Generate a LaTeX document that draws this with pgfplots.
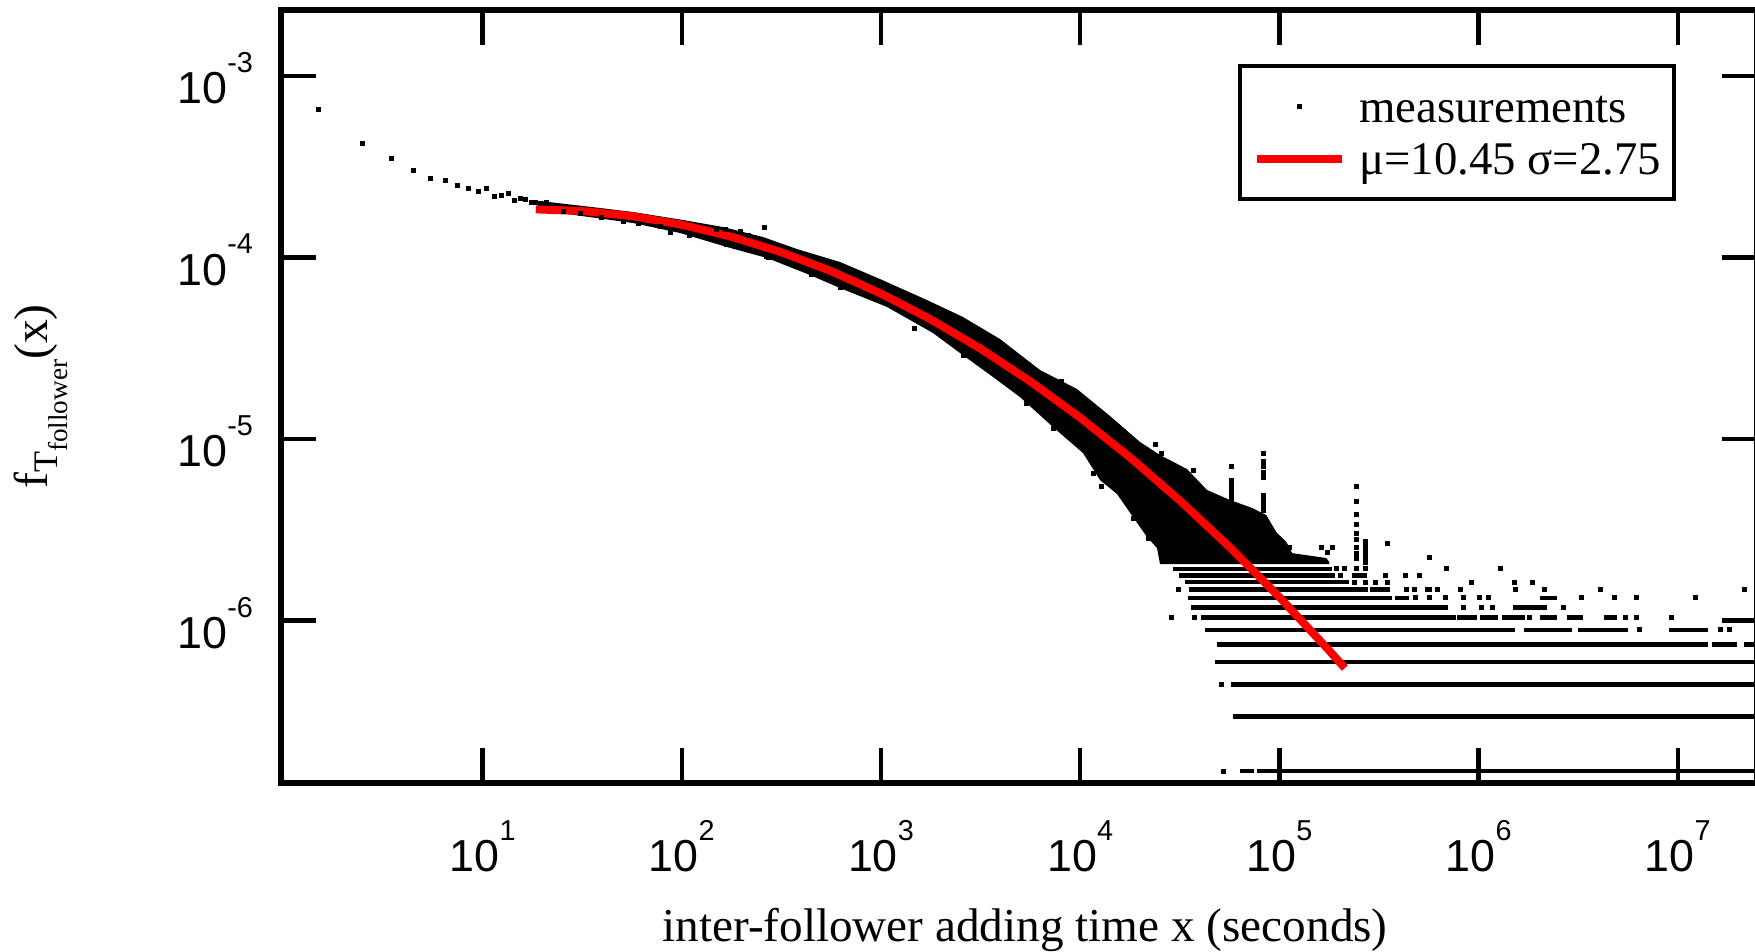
\documentclass[border=0pt]{standalone}
\usepackage{pgfplots}
\pgfplotsset{compat=1.18}
\usepackage{fontspec}
\setmainfont{Liberation Serif}
\newfontfamily\ticksans{Liberation Sans}
\newcommand\tlab[1]{10\raisebox{7.8pt}{\fontsize{7.2}{8}\selectfont #1}}
\pgfplotsset{lvl/.style={black, line width=1.15pt, forget plot},
  wideleg/.style={legend image code/.code={\draw[##1,mark repeat=2,mark phase=2] plot coordinates {(0pt,0pt) (10.55pt,0pt) (21.1pt,0pt)};}}}
\begin{document}
\begin{tikzpicture}
\begin{axis}[
  name=ax,
  xmode=log, ymode=log,
  scale only axis, width=369pt, height=193.25pt,
  xmin=0.9726, xmax=2.498e7, ymin=1.2724e-7, ymax=2.310e-3,
  axis line style={line width=1.3pt},
  tick align=inside, tick pos=both, ticklabel pos=left,
  major tick length=8.7pt,
  tick style={black, line width=1.1pt},
  xminorticks=false, yminorticks=false,
  xtick={1e1,1e2,1e3,1e4,1e5,1e6,1e7},
  ytick={1e-6,1e-5,1e-4,1e-3},
  xticklabels={\tlab{1},\tlab{2},\tlab{3},\tlab{4},\tlab{5},\tlab{6},\tlab{7}},
  yticklabels={\tlab{-6},\tlab{-5},\tlab{-4},\tlab{-3}},
  xticklabel style={font=\ticksans\fontsize{11.2}{12}\selectfont, inner sep=0pt, anchor=north, yshift=-9.1pt},
  yticklabel style={font=\ticksans\fontsize{11.2}{12}\selectfont, inner sep=0pt, anchor=east, xshift=-6.8pt, yshift=-0.6pt},
  xlabel={inter-follower adding time x (seconds)},
  ylabel={f\raisebox{-2.5pt}{\fontsize{8.6}{9}\selectfont T\raisebox{-2.4pt}{\fontsize{6.8}{7}\selectfont follower}}(x)},
  every axis x label/.style={at={(axis description cs:0.5041,0)}, anchor=base, yshift=-39.6pt, font=\fontsize{11.8}{13}\selectfont},
  every axis y label/.style={at={(axis description cs:-0.1441,0.5)}, rotate=90, anchor=south, inner sep=0pt, font=\fontsize{11.9}{13}\selectfont},
  legend style={at={(0.9454,0.92976)}, anchor=north east, draw=black, line width=1pt,
    inner xsep=3.3pt, inner ysep=3.5pt, font=\fontsize{11.7}{13}\selectfont, row sep=0pt,
    nodes={inner sep=0pt, text height=10.5pt, text depth=2.6pt},
    /tikz/every odd column/.append style={column sep=3.4pt}},
  legend cell align=left,
  wideleg,
]
% dense band of measurements (solid black envelope)
\addplot[fill=black, draw=none, forget plot] coordinates {
(19.42,2.048e-4) (38.85,1.874e-4) (56.89,1.781e-4) (101.4,1.609e-4) (161.0,1.472e-4)
(255.6,1.297e-4) (378.7,1.113e-4) (622.7,9.445e-5) (988.5,7.61e-5) (1702,5.83e-5)
(2580,4.70e-5) (3958,3.556e-5) (6284,2.400e-5) (9636,1.886e-5) (14108,1.339e-5)
(19961,9.63e-6) (25153,8.16e-6) (34372,6.83e-6) (43303,5.24e-6) (56494,4.61e-6)
(73032,4.17e-6) (85920,3.81e-6) (96448,3.07e-6) (108300,2.71e-6) (116000,2.35e-6)
(171900,2.21e-6) (178000,2.10e-6) (178000,2.048e-6) (25153,2.048e-6) (24294,2.508e-6)
(21644,2.884e-6) (18413,3.717e-6) (15303,4.98e-6) (12574,5.94e-6) (10330,8.37e-6)
(7302,1.164e-5) (4986,1.703e-5) (3650,2.196e-5) (2493,2.977e-5) (1824,3.837e-5)
(1072,5.34e-5) (622.7,6.79e-5) (440.1,8.01e-5) (267.8,9.94e-5) (168.6,1.142e-4)
(97.95,1.365e-4) (56.89,1.549e-4) (26.53,1.737e-4) (19.42,1.827e-4)
} -- cycle;
% discrete count levels (rows of points)
\addplot[lvl] coordinates {(6.35e4,1.48e-7) (7.45e4,1.48e-7)};
\addplot[lvl] coordinates {(7.75e4,1.48e-7) (3e7,1.48e-7)};
\addplot[lvl] coordinates {(5.88e4,2.96e-7) (3e7,2.96e-7)};
\addplot[lvl] coordinates {(5.715e4,4.44e-7) (3e7,4.44e-7)};
\addplot[lvl] coordinates {(4.75e4,5.92e-7) (3e7,5.92e-7)};
\addplot[lvl] coordinates {(4.844e4,7.40e-7) (1.417e7,7.40e-7)};
\addplot[lvl] coordinates {(1.478e7,7.40e-7) (1.976e7,7.40e-7)};
\addplot[lvl] coordinates {(2.149e7,7.40e-7) (3e7,7.40e-7)};
\addplot[lvl] coordinates {(4.213e4,8.88e-7) (1.527e6,8.88e-7)};
\addplot[lvl] coordinates {(1.69e6,8.88e-7) (2.944e6,8.88e-7)};
\addplot[lvl] coordinates {(3.155e6,8.88e-7) (5.598e6,8.88e-7)};
\addplot[lvl] coordinates {(9.03e6,8.88e-7) (1.418e7,8.88e-7)};
\addplot[lvl] coordinates {(4.041e4,1.036e-6) (7.674e5,1.036e-6)};
\addplot[lvl] coordinates {(7.791e5,1.036e-6) (9.784e5,1.036e-6)};
\addplot[lvl] coordinates {(1.016e6,1.036e-6) (1.251e6,1.036e-6)};
\addplot[lvl] coordinates {(1.306e6,1.036e-6) (1.71e6,1.036e-6)};
\addplot[lvl] coordinates {(2.033e6,1.036e-6) (2.467e6,1.036e-6)};
\addplot[lvl] coordinates {(2.769e6,1.036e-6) (3.354e6,1.036e-6)};
\addplot[lvl] coordinates {(4.261e6,1.036e-6) (4.935e6,1.036e-6)};
\addplot[lvl] coordinates {(3.6e4,1.184e-6) (7.046e5,1.184e-6)};
\addplot[lvl] coordinates {(1.488e6,1.184e-6) (2.198e6,1.184e-6)};
\addplot[lvl] coordinates {(3.469e4,1.332e-6) (3.663e5,1.332e-6)};
\addplot[lvl] coordinates {(3.805e5,1.332e-6) (4.472e5,1.332e-6)};
\addplot[lvl] coordinates {(2.033e6,1.332e-6) (2.467e6,1.332e-6)};
\addplot[lvl] coordinates {(3.518e4,1.48e-6) (2.795e5,1.48e-6)};
\addplot[lvl] coordinates {(2.85e5,1.48e-6) (3.591e5,1.48e-6)};
\addplot[lvl] coordinates {(5.382e5,1.48e-6) (5.815e5,1.48e-6)};
\addplot[lvl] coordinates {(3.374e4,1.628e-6) (2.236e5,1.628e-6)};
\addplot[lvl] coordinates {(3.133e4,1.776e-6) (1.893e5,1.776e-6)};
\addplot[lvl] coordinates {(2.307e5,1.776e-6) (2.743e5,1.776e-6)};
\addplot[lvl] coordinates {(2.934e4,1.924e-6) (1.842e5,1.924e-6)};
% individual measurement points
\addplot[only marks, mark=square*, mark size=0.5pt, mark options={line width=0.25pt, draw=black, fill=black}, wideleg]
coordinates {
(1.5,6.50e-4) (2.5,4.25e-4) (3.5,3.50e-4) (4.5,3.03e-4) (5.5,2.73e-4) (6.5,2.66e-4)
(7.5,2.48e-4) (8.5,2.39e-4) (9.5,2.32e-4) (10.5,2.39e-4) (11.5,2.16e-4) (12.5,2.19e-4)
(13.5,2.26e-4) (14.5,2.06e-4) (15.5,2.11e-4) (16.5,2.09e-4) (17.5,2.01e-4) (18.5,2.00e-4)
(19.5,1.98e-4)
(20.98,2.004e-4) (25.42,1.788e-4) (30.83,1.737e-4) (39.62,1.657e-4) (50.85,1.575e-4)
(60.46,1.543e-4) (77.74,1.478e-4) (87.28,1.369e-4) (109.9,1.330e-4) (149.7,1.430e-4)
(164.8,1.418e-4) (168.1,1.172e-4) (196.0,1.387e-4) (215.7,1.330e-4) (259.6,1.460e-4)
(266.9,1.010e-4) (271.8,1.003e-4) (370.2,9.09e-5) (448.9,8.11e-5) (627.8,6.85e-5)
(1470,4.07e-5) (2590,2.90e-5) (9604,1.809e-5) (5389,1.573e-5) (7328,1.145e-5)
(8076,2.068e-5) (11637,6.47e-6) (12824,5.46e-6) (16459,1.097e-5) (18475,3.66e-6)
(21981,2.84e-6) (23742,9.27e-6) (25655,8.34e-6) (36972,6.69e-6) (36972,5.94e-6)
(57810,7.10e-6) (57810,5.94e-6) (57810,5.65e-6) (57810,5.37e-6) (57810,5.10e-6)
(57810,4.85e-6) (57810,4.61e-6)
(82720,8.37e-6) (82720,7.56e-6) (82720,7.10e-6) (82720,6.58e-6) (82720,6.17e-6)
(82720,4.91e-6) (82720,4.61e-6) (82720,4.33e-6) (82720,4.06e-6)
(2.424e5,5.51e-6) (2.424e5,4.51e-6) (2.424e5,3.85e-6) (2.424e5,3.40e-6) (2.424e5,3.00e-6)
(2.424e5,2.81e-6) (2.424e5,2.51e-6) (2.424e5,2.35e-6) (2.424e5,2.21e-6) (2.424e5,1.924e-6)
(2.69e5,2.71e-6) (2.69e5,2.57e-6) (2.69e5,2.45e-6) (2.69e5,2.32e-6) (2.69e5,2.21e-6) (2.69e5,2.10e-6)
(3.497e5,2.664e-6) (5.656e5,2.22e-6) (1.74e5,2.368e-6)
(1.046e5,2.516e-6) (1.13e5,2.516e-6) (1.631e5,2.516e-6) (1.852e5,2.516e-6)
(1.946e5,1.924e-6) (2.11e5,1.924e-6) (2.69e5,1.924e-6) (6.861e5,1.924e-6) (1.291e6,1.924e-6)
(2.015e5,1.776e-6) (3.417e5,1.776e-6) (4.271e5,1.776e-6) (5.04e5,1.776e-6)
(2.369e5,1.628e-6) (2.69e5,1.628e-6) (3.03e5,1.628e-6) (3.497e5,1.628e-6) (9.256e5,1.628e-6)
(1.514e6,1.628e-6) (1.854e6,1.628e-6)
(3.105e4,1.48e-6) (4.356e5,1.48e-6) (4.74e5,1.48e-6) (6.204e5,1.48e-6) (8.066e5,1.48e-6)
(1.536e6,1.48e-6) (2.13e6,1.48e-6) (4.102e6,1.48e-6) (2.174e7,1.48e-6)
(4.834e5,1.332e-6) (5.636e5,1.332e-6) (6.781e5,1.332e-6) (8.38e5,1.332e-6) (1.016e6,1.332e-6)
(1.119e6,1.332e-6) (3.267e6,1.332e-6) (4.783e6,1.332e-6) (6.221e6,1.332e-6) (1.23e7,1.332e-6)
(8.38e5,1.184e-6) (1.036e6,1.184e-6) (1.172e6,1.184e-6) (2.662e6,1.184e-6)
(2.886e4,1.036e-6) (3.727e4,1.036e-6) (1.811e6,1.036e-6) (5.431e6,1.036e-6) (6.221e6,1.036e-6) (9.32e6,1.036e-6)
(6.415e6,8.88e-7) (1.629e7,8.88e-7) (1.818e7,8.88e-7)
(5.12e4,4.44e-7) (5.27e4,1.48e-7)
};
\addlegendentry{measurements}
% log-normal fit
\addplot[red, line width=2pt] coordinates {
(18.5,1.842e-4) (31.62,1.804e-4) (56.23,1.690e-4) (100,1.516e-4) (177.8,1.301e-4)
(316.2,1.069e-4) (562.3,8.41e-5) (1000,6.33e-5) (1778,4.56e-5) (3162,3.144e-5)
(5623,2.075e-5) (10000,1.311e-5) (17783,7.92e-6) (31623,4.585e-6) (56234,2.540e-6)
(100000,1.346e-6) (177828,6.83e-7) (213000,5.47e-7)
};
\addlegendentry{μ=10.45 σ=2.75}
\end{axis}
\pgfresetboundingbox
\path[use as bounding box] ([shift={(-70.25pt,-42pt)}]ax.south west) rectangle ([shift={(-0.5pt,2.5pt)}]ax.north east);
\end{tikzpicture}
\end{document}
